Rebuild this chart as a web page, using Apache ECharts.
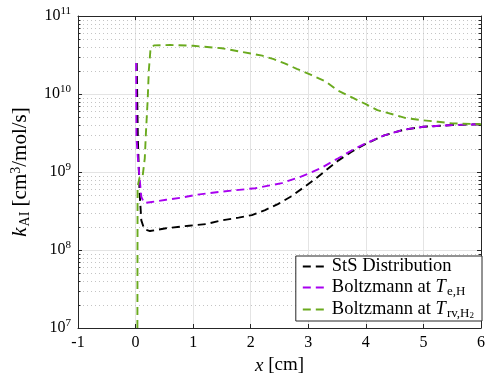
<!DOCTYPE html>
<html>
<head>
<meta charset="utf-8">
<script src="https://cdn.jsdelivr.net/npm/echarts@6/dist/echarts.min.js"></script>
<style>html,body{margin:0;padding:0;background:#fff}#c{width:488px;height:384px}</style>
</head>
<body>
<div id="c"></div>
<script>
// ---- data (x in cm, k in cm^3/mol/s) ----
const seriesNames = ['StS Distribution', 'Boltzmann at Te,H', 'Boltzmann at Trv,H2'];
const stsData = [
  [0.02, 2.5e10], [0.04, 2.6e9], [0.07, 5.4e8], [0.10, 2.4e8], [0.15, 1.85e8],
  [0.25, 1.75e8], [0.53, 1.9e8], [0.93, 2.05e8], [1.22, 2.15e8], [1.5, 2.4e8],
  [1.79, 2.6e8], [2.02, 2.8e8], [2.25, 3.25e8], [2.48, 3.9e8], [2.71, 4.9e8],
  [2.94, 6.5e8], [3.17, 8.7e8], [3.34, 1.1e9], [3.52, 1.4e9], [3.74, 1.8e9],
  [4.0, 2.3e9], [4.32, 2.95e9], [4.67, 3.5e9], [5.0, 3.8e9], [5.5, 4.0e9], [6.0, 4.1e9]
];
const teData = [
  [0.01, 2.5e10], [0.015, 2.8e9], [0.05, 1.2e9], [0.10, 4.8e8], [0.15, 4.0e8],
  [0.25, 4.1e8], [0.53, 4.4e8], [0.81, 4.7e8], [1.05, 5.1e8], [1.5, 5.6e8],
  [2.08, 6.2e8], [2.54, 7.2e8], [2.83, 8.5e8], [3.0, 9.5e8], [3.22, 1.12e9],
  [3.52, 1.5e9], [3.76, 1.9e9], [3.98, 2.3e9], [4.32, 2.95e9], [4.67, 3.5e9],
  [5.0, 3.8e9], [5.5, 4.0e9], [6.0, 4.1e9]
];
const trvData = [
  [0.03, 1e6], [0.035, 6.5e8], [0.07, 8.5e8], [0.12, 8.5e8], [0.16, 1.5e9],
  [0.18, 3.2e9], [0.21, 8.3e9], [0.23, 2.0e10], [0.26, 3.8e10], [0.32, 4.2e10],
  [0.6, 4.25e10], [1.0, 4.15e10], [1.5, 3.86e10], [2.0, 3.3e10], [2.2, 3.1e10],
  [2.4, 2.8e10], [2.6, 2.45e10], [2.8, 2.1e10], [3.06, 1.74e10], [3.3, 1.45e10],
  [3.5, 1.12e10], [3.75, 9.1e9], [4.0, 7.4e9], [4.2, 6.2e9], [4.5, 5.4e9],
  [4.7, 4.9e9], [5.0, 4.6e9], [5.25, 4.4e9], [5.5, 4.2e9], [6.0, 4.1e9]
];
const xTicks = [-1, 0, 1, 2, 3, 4, 5, 6];
const yDecades = [7, 8, 9, 10, 11];

const colors = ['#000000', '#a800f0', '#6aaa1e'];
const axisColor = '#262626';
const font = 'Liberation Serif';
const xMin = xTicks[0], xMax = xTicks[xTicks.length - 1];
const yMin = Math.pow(10, yDecades[0]), yMax = Math.pow(10, yDecades[yDecades.length - 1]);

// minor (2..9 x 10^n) grid positions
const minorVals = [];
for (let i = 0; i < yDecades.length - 1; i++) {
  for (let k = 2; k <= 9; k++) minorVals.push([xMin, k * Math.pow(10, yDecades[i])]);
}

const chart = echarts.init(document.getElementById('c'), null, {renderer: 'canvas'});
const LF = 18.5;
const legendRich = {
  n: {fontFamily: font, fontSize: LF, color: '#000'},
  i: {fontFamily: font, fontSize: LF, fontStyle: 'italic', color: '#000'},
  sub: {fontFamily: font, fontSize: 13, color: '#000', padding: [8, 0, 0, 1]},
  sub2: {fontFamily: font, fontSize: 9, color: '#000', padding: [12, 0, 0, 0]}
};
const legendLabels = {
  'StS Distribution': '{n|StS Distribution}',
  'Boltzmann at Te,H': '{n|Boltzmann at }{i|T}{sub|e,H}',
  'Boltzmann at Trv,H2': '{n|Boltzmann at }{i|T}{sub|rv,H}{sub2|2}'
};
const lineData = [stsData, teData, trvData];

const option = {
  animation: false,
  backgroundColor: '#fff',
  grid: {left: 78, right: 4, top: 16, bottom: 56, containLabel: false},
  legend: {
    data: seriesNames,
    orient: 'vertical',
    right: 6, top: 256,
    padding: [1, 8, 1, 6],
    itemGap: 2,
    itemWidth: 24, itemHeight: 14,
    borderColor: axisColor, borderWidth: 1,
    backgroundColor: '#fff',
    itemStyle: {opacity: 0},
    formatter: n => legendLabels[n],
    textStyle: {fontFamily: font, fontSize: LF, rich: legendRich}
  },
  xAxis: [{
    type: 'value', min: xMin, max: xMax, interval: 1, position: 'bottom',
    name: '{i|x} [cm]', nameLocation: 'middle', nameGap: 28,
    nameTextStyle: {fontFamily: font, fontSize: 19, color: '#000',
      rich: {i: {fontFamily: font, fontSize: 19, fontStyle: 'italic', color: '#000'}}},
    axisLine: {show: true, onZero: false, lineStyle: {color: axisColor, width: 1}},
    axisTick: {show: true, inside: true, length: 4, lineStyle: {color: axisColor}},
    axisLabel: {fontFamily: font, fontSize: 16, color: '#000', margin: 7},
    splitLine: {show: true, lineStyle: {color: '#e4e4e4', width: 1}}
  }, {
    type: 'value', min: xMin, max: xMax, interval: 1, position: 'top',
    axisLine: {show: true, onZero: false, lineStyle: {color: axisColor, width: 1}},
    axisTick: {show: true, inside: true, length: 4, lineStyle: {color: axisColor}},
    axisLabel: {show: false}, splitLine: {show: false}
  }],
  yAxis: [{
    type: 'log', logBase: 10, min: yMin, max: yMax, position: 'left',
    name: '{i|k}{sub|AI} [cm{sup|3}/mol/s]', nameLocation: 'middle', nameGap: 46,
    nameTextStyle: {fontFamily: font, fontSize: 21, color: '#000',
      rich: {
        i: {fontFamily: font, fontSize: 21, fontStyle: 'italic', color: '#000'},
        sub: {fontFamily: font, fontSize: 14, color: '#000', padding: [9, 0, 0, 1]},
        sup: {fontFamily: font, fontSize: 14, color: '#000', padding: [0, 0, 9, 0]}
      }},
    axisLine: {show: true, onZero: false, lineStyle: {color: axisColor, width: 1}},
    axisTick: {show: true, inside: true, length: 4, lineStyle: {color: axisColor}},
    axisLabel: {
      fontFamily: font, fontSize: 16, color: '#000', margin: 7,
      formatter: v => '{b|10}{s|' + Math.round(Math.log10(v)) + '}',
      rich: {
        b: {fontFamily: font, fontSize: 16, color: '#000'},
        s: {fontFamily: font, fontSize: 11, color: '#000', padding: [0, 0, 10, 0]}
      }
    },
    splitLine: {show: true, lineStyle: {color: '#e4e4e4', width: 1}}
  }, {
    type: 'log', logBase: 10, min: yMin, max: yMax, position: 'right',
    axisLine: {show: true, onZero: false, lineStyle: {color: axisColor, width: 1}},
    axisTick: {show: true, inside: true, length: 4, lineStyle: {color: axisColor}},
    axisLabel: {show: false}, splitLine: {show: false}
  }],
  series: [{
    type: 'custom', name: 'minorGrid', silent: true, z: 1,
    xAxisIndex: 0, yAxisIndex: 0, clip: false,
    data: minorVals,
    renderItem: (params, api) => {
      const v = api.value(1);
      const p0 = api.coord([xMin, v]);
      const p1 = api.coord([xMax, v]);
      const y = Math.round(p0[1]) + 0.5;
      return {type: 'group', children: [
        {type: 'line', shape: {x1: p0[0] + 1, y1: y, x2: p1[0] - 1, y2: y},
          style: {stroke: '#c4c4c4', lineWidth: 1, lineDash: [1, 3]}},
        {type: 'line', shape: {x1: p0[0], y1: y, x2: p0[0] + 2.5, y2: y},
          style: {stroke: axisColor, lineWidth: 1}},
        {type: 'line', shape: {x1: p1[0] - 2.5, y1: y, x2: p1[0], y2: y},
          style: {stroke: axisColor, lineWidth: 1}}
      ]};
    }
  }].concat(seriesNames.map((n, i) => ({
    type: 'line', name: n, data: lineData[i],
    xAxisIndex: 0, yAxisIndex: 0,
    showSymbol: false, symbol: 'none', smooth: false, z: 3 + i,
    itemStyle: {color: colors[i]},
    lineStyle: {color: colors[i], width: 1.9, type: [8, 5]}
  })))
};
chart.setOption(option);
</script>
</body>
</html>
